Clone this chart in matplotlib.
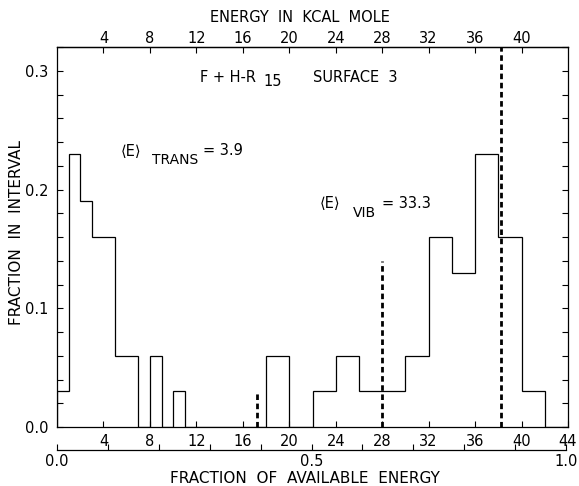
import matplotlib
matplotlib.use("Agg")
import matplotlib.pyplot as plt
from matplotlib.ticker import MultipleLocator, FixedLocator

plt.rcParams['font.family'] = ['DejaVu Sans']

# Histogram of product energy (step outline); bin edges in kcal/mole
bin_edges = [0, 1, 2, 3, 5, 7, 8, 9, 10, 11, 18, 20, 22, 24, 26, 30, 32, 34, 36, 38, 40, 42, 44]
fractions = [0.03, 0.23, 0.19, 0.16, 0.06, 0.0, 0.06, 0.0, 0.03, 0.0, 0.06, 0.0,
             0.03, 0.06, 0.03, 0.06, 0.16, 0.13, 0.23, 0.16, 0.03, 0.0]

# Dashed marker lines: position (kcal/mole) and height
marker_x = [17.2, 28.0, 38.2]
marker_top = [0.03, 0.14, 0.32]

bottom_ticks = [4, 8, 12, 16, 20, 24, 28, 32, 36, 40, 44]
top_ticks = [4, 8, 12, 16, 20, 24, 28, 32, 36, 40]
y_ticks = [0.0, 0.1, 0.2, 0.3]
y_ticklabels = ["0.0", "0.1", "0.2", "0.3"]
frac_ticks = [0.0, 0.5, 1.0]
frac_ticklabels = ["0.0", "0.5", "1.0"]

W, H = 579, 486
fig = plt.figure(figsize=(W / 100, H / 100), dpi=100)


def fx(px):
    return px / W


def fy(py):
    return 1 - py / H


L, R, T, B = 57, 568, 47, 427
ax = fig.add_axes([fx(L), fy(B), fx(R) - fx(L), fy(T) - fy(B)])
ax.stairs(fractions, bin_edges, color="black", linewidth=0.9)
for xm, top in zip(marker_x, marker_top):
    ax.plot([xm, xm], [0, top], color="black", linewidth=2.0,
            linestyle=(0, (2.0, 1.3)), solid_capstyle="butt")

ax.set_xlim(0, 44)
ax.set_ylim(0, 0.32)
for s in ax.spines.values():
    s.set_linewidth(0.9)

ax.xaxis.set_major_locator(FixedLocator(bottom_ticks))
ax.set_xticklabels([str(t) for t in bottom_ticks])
ax.yaxis.set_major_locator(FixedLocator(y_ticks))
ax.set_yticklabels(y_ticklabels)
ax.yaxis.set_minor_locator(MultipleLocator(0.02))
ax.tick_params(axis="both", which="both", direction="in", length=4, width=0.8,
               labelsize=10.5, right=True, pad=5)
ax.tick_params(axis="y", which="major", pad=6)

# Top energy axis (same scale)
axt = ax.secondary_xaxis("top")
axt.xaxis.set_major_locator(FixedLocator(top_ticks))
axt.set_xticklabels([str(t) for t in top_ticks])
axt.tick_params(direction="in", length=4, width=0.8, labelsize=10.5, pad=1)
axt.spines["top"].set_linewidth(0.9)

# Fraction of available energy scale below the plot
fa = fig.add_axes([fx(L), fy(450), fx(566) - fx(L), 0.0001])
fa.set_xlim(0, 1)
for side in ("top", "left", "right"):
    fa.spines[side].set_visible(False)
fa.spines["bottom"].set_linewidth(0.9)
fa.set_yticks([])
fa.xaxis.set_major_locator(FixedLocator(frac_ticks))
fa.set_xticklabels(frac_ticklabels)
fa.xaxis.set_minor_locator(MultipleLocator(0.1))
fa.tick_params(axis="x", which="both", direction="in", length=4, width=0.8,
               labelsize=10.5, pad=3)
fa.patch.set_visible(False)

# Titles and annotations
fig.text(fx(300), fy(18), "ENERGY  IN  KCAL  MOLE", ha="center", va="center", fontsize=10.5)
fig.text(fx(305), fy(478), "FRACTION  OF  AVAILABLE  ENERGY", ha="center", va="center", fontsize=11)
fig.text(fx(17), fy(232), "FRACTION  IN  INTERVAL", ha="center", va="center",
         rotation=90, fontsize=11)

fig.text(fx(200), fy(77), "F + H-R", ha="left", va="center", fontsize=10.5)
fig.text(fx(263), fy(82), "15", ha="left", va="center", fontsize=10.5)
fig.text(fx(313), fy(77), "SURFACE  3", ha="left", va="center", fontsize=10.5)

fig.text(fx(121), fy(151), "⟨E⟩", ha="left", va="center", fontsize=10.5)
fig.text(fx(152), fy(160), "TRANS", ha="left", va="center", fontsize=10)
fig.text(fx(203), fy(150), "= 3.9", ha="left", va="center", fontsize=10.5)

fig.text(fx(320), fy(204), "⟨E⟩", ha="left", va="center", fontsize=10.5)
fig.text(fx(353), fy(213), "VIB", ha="left", va="center", fontsize=10)
fig.text(fx(382), fy(204), "= 33.3", ha="left", va="center", fontsize=10.5)

fig.savefig("out.png", dpi=100)
